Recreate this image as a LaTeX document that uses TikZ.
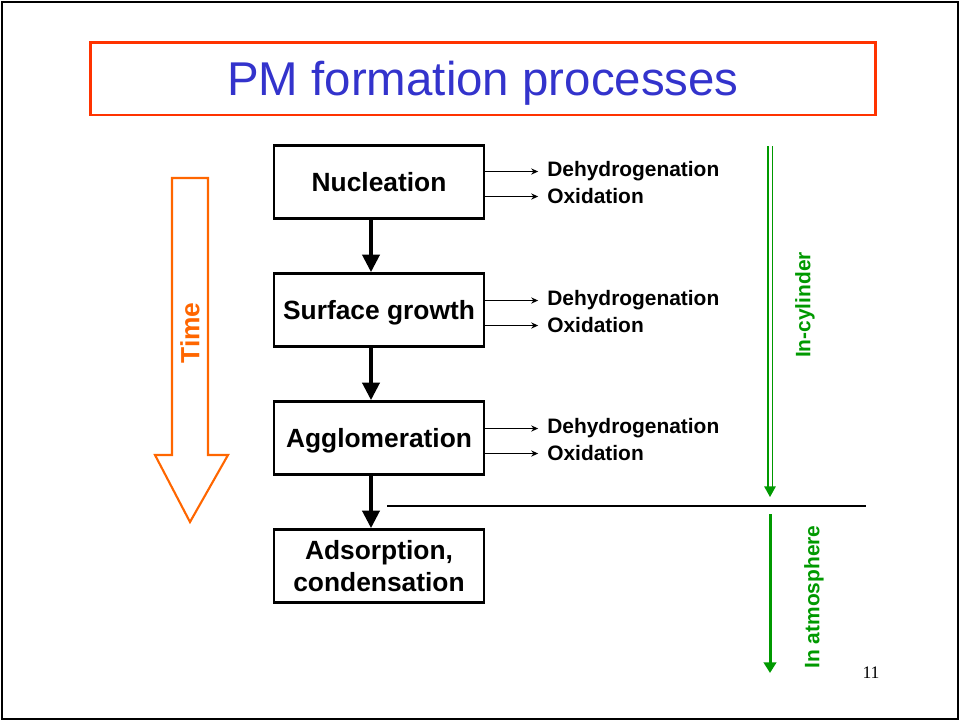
\documentclass[tikz,border=0pt]{standalone}
\usepackage{fontspec}
\setmainfont{Liberation Sans}
\newfontfamily\pagefont{Liberation Serif}
\usetikzlibrary{arrows.meta}

\definecolor{titleblue}{HTML}{3333CC}
\definecolor{titlered}{HTML}{FF3300}
\definecolor{timeorange}{HTML}{FF6600}
\definecolor{zonegreen}{HTML}{009900}

\tikzset{
  stage/.style={draw, line width=1.4pt, minimum width=4.2cm, minimum height=1.46cm,
    inner sep=0pt, align=center, text depth=0pt, font=\fontsize{15}{18}\selectfont\bfseries},
  sublabel/.style={anchor=west, inner sep=0pt, font=\fontsize{11.9}{14}\selectfont\bfseries},
  flow/.style={line width=2.8pt, -{Triangle[width=9.5pt,length=10pt]}},
  branch/.style={line width=0.6pt, shorten >=5pt, -{Stealth[length=4pt,width=3.5pt]}},
  zonelabel/.style={text=zonegreen, rotate=90, inner sep=0pt, font=\fontsize{11.9}{14}\selectfont\bfseries}
}

\begin{document}
\begin{tikzpicture}[x=0.02cm,y=-0.02cm]
    \useasboundingbox (0,0) rectangle (960,721);
    % Рамка слайда
    \draw[line width=1.2pt] (2,2) rectangle (958,719);

    % Заголовок
    \node[draw=titlered, line width=1.7pt, minimum width=15.72cm, minimum height=1.46cm, text depth=0pt,
      text=titleblue, font=\fontsize{27}{32}\selectfont] (title) at (483,78.5) {PM formation processes};

    % Стадии
    \def\bx{379}  \def\ax{371}
    \node[stage] (nuc)  at (\bx,182) {Nucleation};
    \node[stage] (surf) at (\bx,310) {Surface growth};
    \node[stage] (aggl) at (\bx,438) {Agglomeration};
    \node[stage] (ads)  at (\bx,566) {Adsorption,\\condensation};

    \draw[flow] (nuc.south -| \ax,0) -- (surf.north -| \ax,0);
    \draw[flow] (surf.south -| \ax,0) -- (aggl.north -| \ax,0);
    \draw[flow] (aggl.south -| \ax,0) -- (ads.north -| \ax,0);

    % Ответвления
    \foreach \b/\y in {nuc/171.5, surf/300.5, aggl/428.5} {
      \node[sublabel] (dh-\b) at (547,\y) {Dehydrogenation};
      \node[sublabel] (ox-\b) at (547,\y+25) {Oxidation};
      \draw[branch] (\b.east |- dh-\b.west) -- (dh-\b.west);
      \draw[branch] (\b.east |- ox-\b.west) -- (ox-\b.west);
    }

    % Стрелка времени
    \draw[timeorange, line width=1.2pt] (172,178) -- (208,178) -- (208,455) -- (228,455)
      -- (190,522) -- (155,455) -- (172,455) -- cycle;
    \node[text=timeorange, rotate=90, font=\fontsize{15}{18}\selectfont\bfseries] (time) at (190,333) {Time};

    % Граница цилиндр / атмосфера
    \coordinate (sep-l) at (387,506);
    \coordinate (sep-r) at (866,506);
    \draw[line width=1.1pt] (sep-l) -- (sep-r);

    \coordinate (cyl-top) at (770,146);
    \coordinate (cyl-tip) at (770,488);
    \coordinate (cyl-end) at (770,497);
    \draw[zonegreen, double=white, double distance=1.7pt, line width=0.75pt] (cyl-top) -- (cyl-tip);
    \draw[zonegreen, line width=0.7pt, -{Triangle[width=6.5pt,length=6pt]}] (cyl-tip) -- (cyl-end);
    \node[zonelabel] (cyl) at (805,305) {In-cylinder};

    \coordinate (atm-top) at (770,514);
    \coordinate (atm-end) at (770,673);
    \draw[zonegreen, line width=1.7pt, -{Triangle[width=7pt,length=6pt]}] (atm-top) -- (atm-end);
    \node[zonelabel] (atm) at (814,597) {In atmosphere};

    \node[font=\pagefont\fontsize{10}{12}\selectfont] (page) at (871,673) {11};
\end{tikzpicture}
\end{document}
